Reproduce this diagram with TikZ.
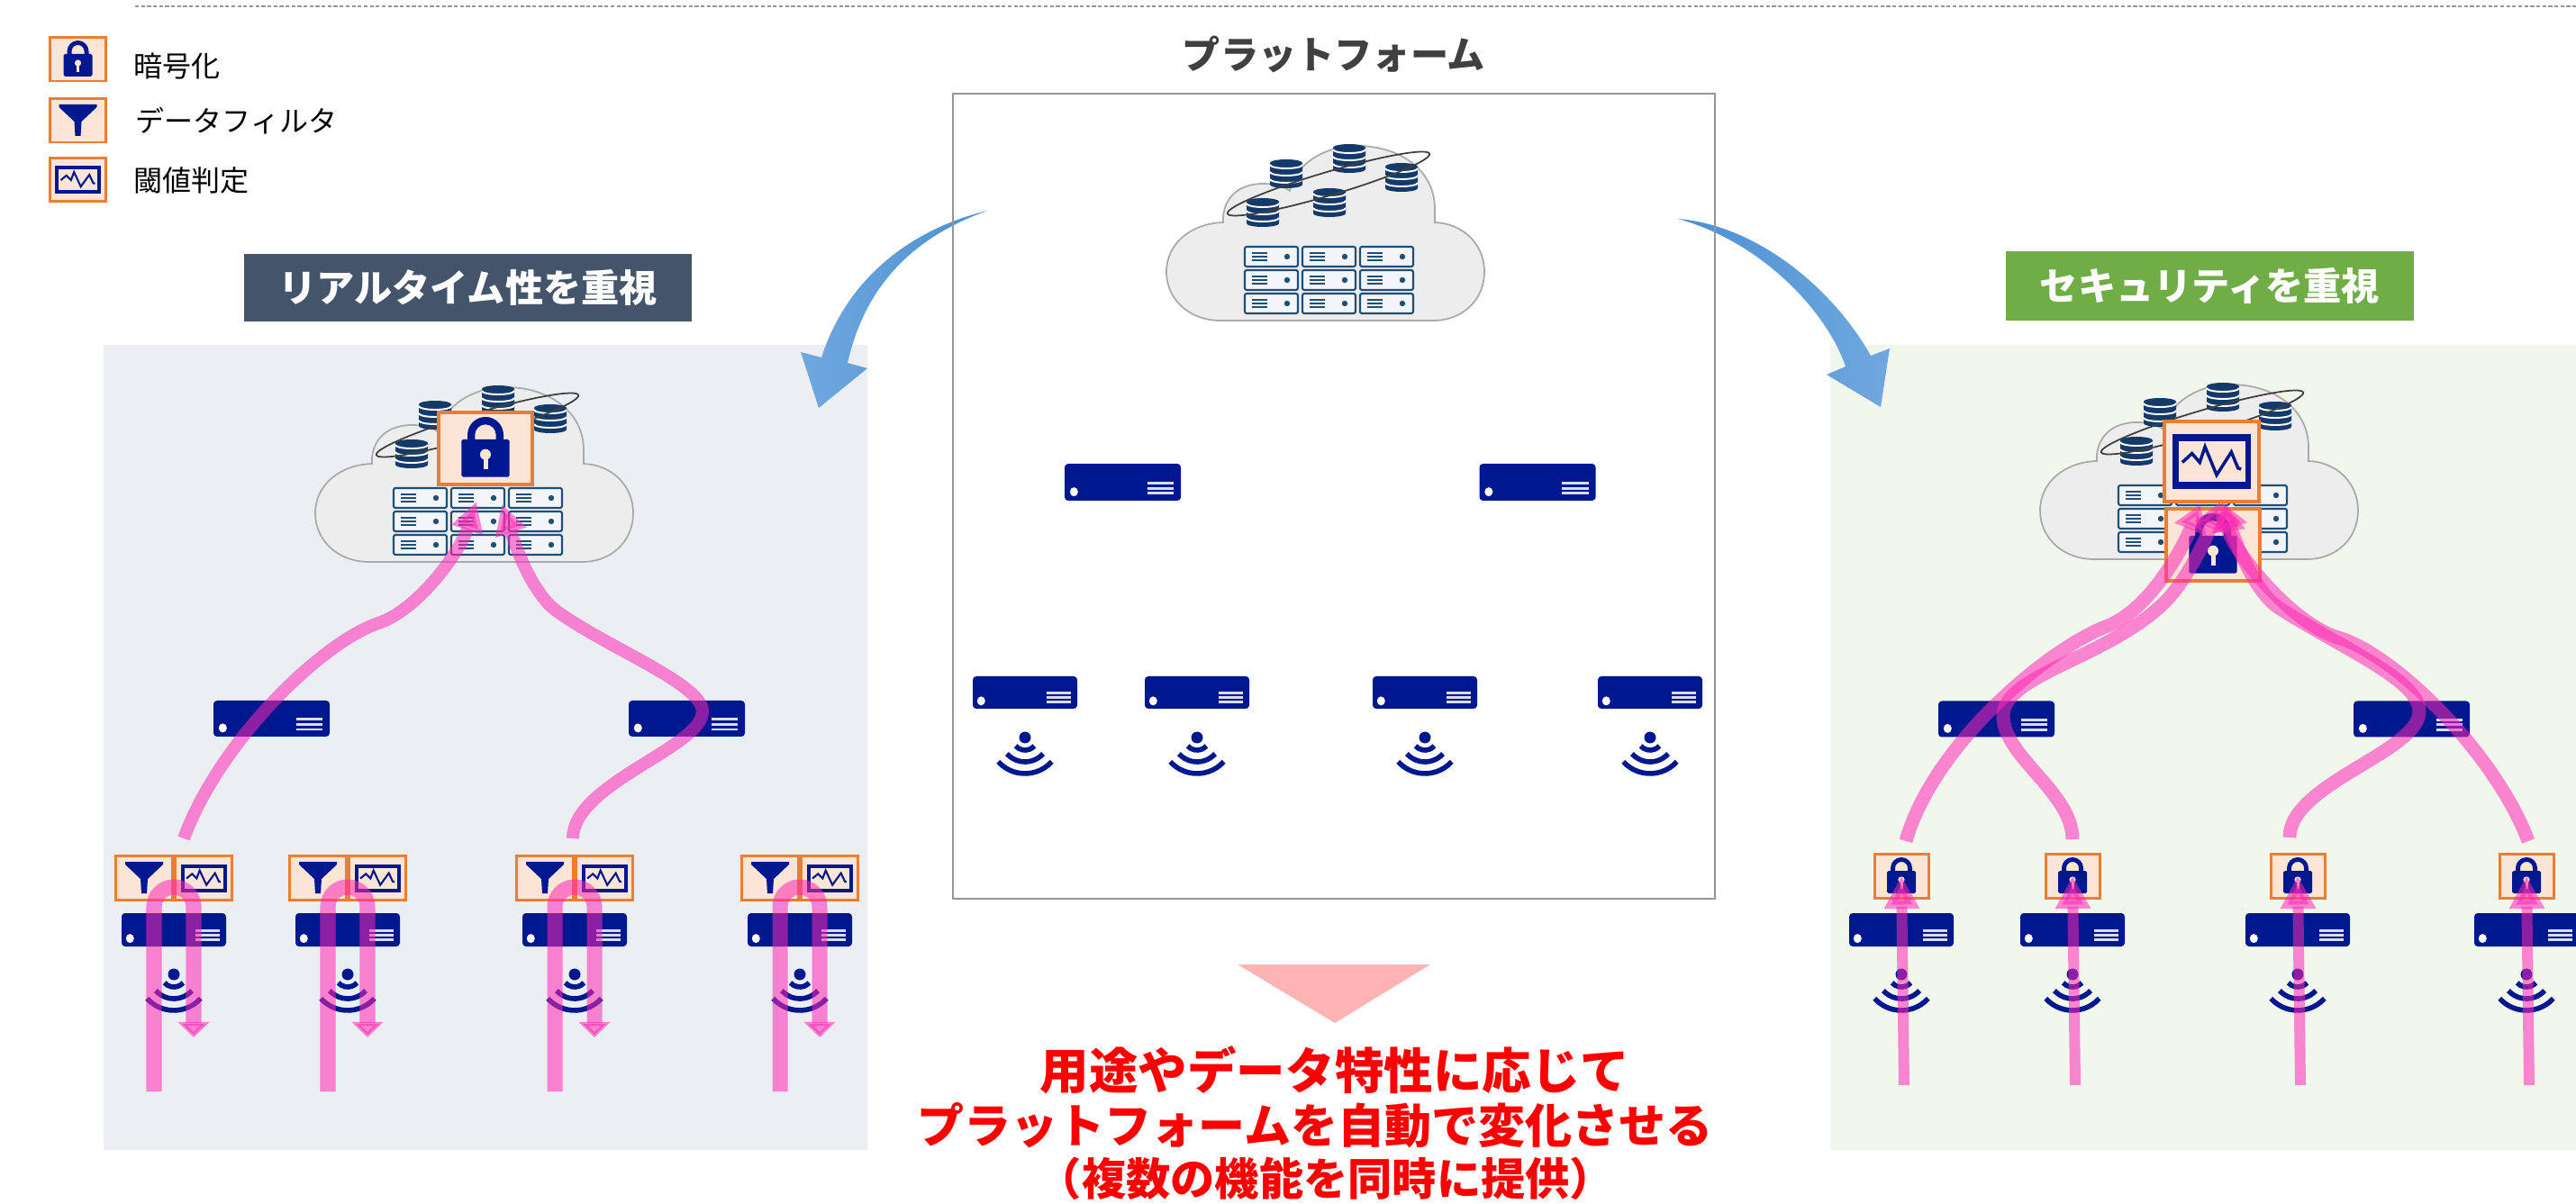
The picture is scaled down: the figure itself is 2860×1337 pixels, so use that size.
\documentclass[tikz,border=0pt]{standalone}
\usepackage{fontspec}
\newfontfamily\jp{Noto Sans CJK JP}
\usetikzlibrary{arrows.meta}

\definecolor{navy}{RGB}{0,24,143}
\definecolor{dbblue}{RGB}{20,58,105}
\definecolor{srvblue}{RGB}{31,78,121}
\definecolor{srvfill}{RGB}{243,245,248}
\definecolor{cloudfill}{RGB}{237,237,237}
\definecolor{cloudline}{RGB}{170,170,170}
\definecolor{boxorange}{RGB}{237,125,49}
\definecolor{boxpeach}{RGB}{251,229,214}
\definecolor{flowpink}{RGB}{255,40,180}
\definecolor{leftbg}{RGB}{235,239,243}
\definecolor{rightbg}{RGB}{241,247,236}
\definecolor{hdrslate}{RGB}{68,84,106}
\definecolor{hdrgreen}{RGB}{112,173,71}
\definecolor{arrowdark}{RGB}{74,144,210}
\definecolor{arrowlight}{RGB}{112,168,222}
\definecolor{downtri}{RGB}{255,180,180}
\definecolor{titlegray}{RGB}{64,64,64}
\definecolor{framegray}{RGB}{150,150,150}

% one database cylinder, top centre at (#1,#2)
\newcommand\dbat[2]{%
  \begin{scope}[shift={(#1,#2)}]
    \fill[dbblue] (-18,4) -- (-18,28) arc[start angle=180, end angle=0, x radius=18, y radius=4]
      -- (18,4) arc[start angle=0, end angle=-180, x radius=18, y radius=4] -- cycle;
    \foreach \yy in {6,14,22}
      {\draw[white, line width=0.55pt] (-18,\yy) arc[start angle=180, end angle=0, x radius=18, y radius=4];}
  \end{scope}}

% one rack unit, top-left corner at (#1,#2)
\newcommand\srvat[2]{%
  \begin{scope}[shift={(#1,#2)}]
    \draw[srvblue, fill=srvfill, line width=0.6pt, rounded corners=0.6pt] (0,0) rectangle (59,22);
    \foreach \yy in {7,11,15}
      {\draw[srvblue, line width=0.5pt] (8,\yy) -- (25,\yy);}
    \fill[srvblue] (47,11) circle[radius=3.2];
  \end{scope}}

\tikzset{
  obox/.style={draw=boxorange, fill=boxpeach, line width=0.85pt, inner sep=0pt,
    minimum width=0.62cm, minimum height=0.48cm},
  obig/.style={obox, line width=1.15pt},
  flow/.style={draw=flowpink, opacity=0.55, line cap=butt},
  hdr/.style={text=white, inner sep=0pt, font=\jp\bfseries\fontsize{12}{14}\selectfont},
  legendtext/.style={anchor=west, inner sep=0pt, font=\jp\fontsize{9.1}{11}\selectfont},
  pics/switchicon/.style 2 args={code={
    \fill[navy, rounded corners=1.1pt] ({-#1/2},{-#2/2}) rectangle ({#1/2},{#2/2});
    \fill[white] ({-0.42*#1},{0.26*#2}) ellipse[x radius=4.5, y radius=5];
    \foreach \kk in {0.02,0.16,0.30}
      {\draw[white!85!navy, line width=0.85pt] ({0.21*#1},{\kk*#2}) -- ({0.44*#1},{\kk*#2});}
  }},
  pics/wifiicon/.style={code={
    \fill[navy] (0,0) circle[radius=6.5];
    \foreach \rr in {14,27,40}
      {\draw[navy, line width=1.6pt] (42:\rr) arc[start angle=42, end angle=138, radius=\rr];}
  }},
  pics/lockicon/.style={code={
    \fill[navy, rounded corners=0.5pt] (-16,-6) rectangle (16,19);
    \fill[navy] (-12,-5) -- (-12,-9) arc[start angle=180, end angle=360, radius=12]
      -- (12,-5) -- (7,-5) -- (7,-9) arc[start angle=360, end angle=180, radius=7] -- (-7,-5) -- cycle;
    \fill[boxpeach] (0,4) circle[radius=3.6];
    \fill[boxpeach] (-1.5,4) rectangle (1.5,14);
  }},
  pics/funnelicon/.style={code={
    \fill[navy] (-21,-18) -- (21,-18) -- (21,-15) -- (4,1) -- (3,17) -- (-3,17) -- (-4,1) -- (-21,-15) -- cycle;
  }},
  pics/monitoricon/.style={code={
    \fill[navy] (-25.5,-15.5) rectangle (25.5,15.5);
    \fill[boxpeach] (-21.5,-11.5) rectangle (21.5,11.5);
    \draw[navy, line width=#1] (-19,0.5) -- (-12.7,-4.6) -- (-7.7,0.5) -- (-4.3,-8.4)
      -- (3.2,7.7) -- (12.7,-5.4) -- (17,3.8) -- (19,4.3);
  }},
  pics/cloudstack/.style={code={
    \filldraw[fill=cloudfill, draw=cloudline, line width=0.5pt]
      (63,87) .. controls (28,88) and (0,110) .. (0,142)
      .. controls (0,172) and (25,196) .. (60,196) -- (296,196)
      .. controls (330,196) and (353,172) .. (353,142)
      .. controls (353,110) and (328,88) .. (298,87) -- (298,72)
      .. controls (298,28) and (258,2) .. (212,2)
      .. controls (172,2) and (142,25) .. (137,52)
      .. controls (122,40) and (68,36) .. (63,80) -- cycle;
    \dbat{133}{17}
    \dbat{203}{0}
    \dbat{261}{21}
    \dbat{107}{60}
    \dbat{181}{49}
    \draw[black!75, line width=0.5pt, rotate around={16.5:(180,44)}]
      (180,44) ellipse[x radius=117, y radius=13];
    \foreach \ii in {0,1,2}
      {\foreach \jj in {0,1,2}
        {\srvat{87+64*\ii}{114+26*\jj}}}
  }},
}

\begin{document}
\begin{tikzpicture}[x=0.01cm, y=-0.01cm]
\useasboundingbox (0,0) rectangle (2860,1337);
\clip (0,0) rectangle (2860,1337);

% dashed rule along the top
\draw[framegray, line width=0.5pt, dash pattern=on 1.2pt off 0.7pt] (150,7) -- (2860,7);

% panel backgrounds
\fill[leftbg] (115,383) rectangle (963,1277);
\fill[rightbg] (2032,383) rectangle (2860,1277);

% curved transition arrows
\shade[left color=arrowlight, right color=arrowdark]
  (1096,234) .. controls (1010,255) and (940,310) .. (912,397) -- (889,391) -- (909,453)
  -- (963,409) -- (941,403) .. controls (960,320) and (1010,265) .. (1096,234) -- cycle;
\shade[left color=arrowdark, right color=arrowlight]
  (1863,243) .. controls (1950,250) and (2035,320) .. (2077,395) -- (2098,387) -- (2088,452)
  -- (2028,416) -- (2049,407) .. controls (2030,350) and (1960,270) .. (1863,243) -- cycle;

% platform frame and titles
\node[draw=framegray, line width=0.6pt, minimum width=8.46cm, minimum height=8.94cm, inner sep=0pt] (frame) at (1481,551) {};
\node[text=titlegray, inner sep=0pt, font=\jp\bfseries\fontsize{12}{14}\selectfont] (ptitle) at (1481,60) {プラットフォーム};
\node[hdr, fill=hdrslate, minimum width=4.97cm, minimum height=0.75cm] (hdrL) at (519.5,319.5) {リアルタイム性を重視};
\node[hdr, fill=hdrgreen, minimum width=4.53cm, minimum height=0.77cm] (hdrR) at (2453.5,317.5) {セキュリティを重視};

% clouds
\pic at (1295,160) {cloudstack};
\pic at (350,428) {cloudstack};
\pic at (2265,425) {cloudstack};

% function boxes on the clouds
\node[obig, minimum width=1.04cm, minimum height=0.80cm] (lCloudLock) at (539,498) {};
\pic[scale=1.667] at (lCloudLock) {lockicon};
\node[obig, minimum width=1.05cm, minimum height=0.89cm] (rCloudMon) at (2455.5,512.5) {};
\pic[xscale=1.72, yscale=1.95] at (rCloudMon) {monitoricon=1.0pt};
\node[obig, minimum width=1.04cm, minimum height=0.80cm] (rCloudLock) at (2457,605) {};
\pic[scale=1.667] at (rCloudLock) {lockicon};

% platform: relays and sensors
\pic at (1246.5,535.5) {switchicon={129}{41}};
\pic at (1707,535.5) {switchicon={129}{41}};
\foreach \cx in {1138,1329,1582,1832} {
  \pic at (\cx,769) {switchicon={116}{36}};
  \pic at (\cx,819) {wifiicon};
}

% real-time side
\pic at (301.5,798) {switchicon={129}{40}};
\pic at (762.5,798) {switchicon={129}{40}};
\foreach \cx/\n in {193/1,386/2,638/3,888/4} {
  \node[obox] (lFil\n) at (\cx-33,975) {};
  \pic at (lFil\n) {funnelicon};
  \node[obox] (lMon\n) at (\cx+33,975) {};
  \pic at (lMon\n) {monitoricon=0.6pt};
  \pic at (\cx,1032.5) {switchicon={116}{37}};
  \pic at (\cx,1082) {wifiicon};
}

% security side
\pic at (2216.5,798.5) {switchicon={129}{40}};
\pic at (2677.5,798.5) {switchicon={129}{40}};
\foreach \cx/\n in {2111/1,2301/2,2551/3,2805/4} {
  \node[obox, minimum width=0.60cm] (rLk\n) at (\cx,973) {};
  \pic at (rLk\n) {lockicon};
  \pic at (\cx,1032.5) {switchicon={116}{37}};
  \pic at (\cx,1082) {wifiicon};
}

% data flows, real-time side
\coordinate (lStartA) at (204,931);
\coordinate (lEndA) at (529,557);
\coordinate (lStartB) at (636,931);
\coordinate (lEndB) at (557,560);
\draw[flow, line width=0.14cm, -{Triangle[length=3.3mm, width=3.4mm]}]
  (lStartA) .. controls (245,820) and (360,712) .. (420,692) .. controls (465,677) and (511,612) .. (lEndA);
\draw[flow, line width=0.14cm, -{Triangle[length=3.3mm, width=3.4mm]}]
  (lStartB) .. controls (636,870) and (780,830) .. (780,790) .. controls (780,760) and (678,721) .. (620,680)
  .. controls (591,660) and (573,608) .. (lEndB);
\foreach \cx/\n in {193/1,386/2,638/3,888/4} {
  \coordinate (lLoop\n) at (\cx-22,1212);
  \draw[flow, line width=0.17cm, -{Triangle[length=1.7mm, width=3.4mm]}]
    (lLoop\n) -- ++(0,-205) arc[start angle=180, end angle=360, radius=22] -- ++(0,145);
}

% data flows, security side
\coordinate (rStart1) at (2116,934);
\coordinate (rStart2) at (2301,932);
\coordinate (rStart3) at (2542,930);
\coordinate (rStart4) at (2807,934);
\coordinate (rEndL) at (2443,560);
\coordinate (rEndM) at (2465,558);
\coordinate (rEndN) at (2467,558);
\coordinate (rEndR) at (2470,560);
\draw[flow, line width=0.15cm, -{Triangle[length=3.0mm, width=3.6mm]}]
  (rStart1) .. controls (2145,830) and (2270,722) .. (2340,695) .. controls (2388,676) and (2424,607) .. (rEndL);
\draw[flow, line width=0.15cm, -{Triangle[length=3.0mm, width=3.6mm]}]
  (rStart2) .. controls (2301,880) and (2224,840) .. (2224,795) .. controls (2224,750) and (2335,732) .. (2400,672)
  .. controls (2426,648) and (2448,601) .. (rEndM);
\draw[flow, line width=0.15cm, -{Triangle[length=3.0mm, width=3.6mm]}]
  (rStart3) .. controls (2542,870) and (2686,835) .. (2686,790) .. controls (2686,755) and (2600,720) .. (2530,675)
  .. controls (2503,657) and (2482,602) .. (rEndN);
\draw[flow, line width=0.15cm, -{Triangle[length=3.0mm, width=3.6mm]}]
  (rStart4) .. controls (2771,838) and (2660,727) .. (2596,708) .. controls (2540,691) and (2476,605) .. (rEndR);
\foreach \cx/\n in {2111/1,2301/2,2551/3,2805/4} {
  \coordinate (rIn\n) at (\cx+3,1205);
  \draw[flow, line width=0.12cm, -{Triangle[length=3.6mm, width=3.7mm]}] (rIn\n) -- (rLk\n.center);
}

% legend
\node[obox, minimum width=0.61cm] (lgLock) at (86.5,66) {};
\pic at (lgLock) {lockicon};
\node[legendtext] (lgLockT) at (148,73) {暗号化};
\node[obox, minimum width=0.61cm] (lgFilter) at (86.5,134) {};
\pic at (lgFilter) {funnelicon};
\node[legendtext] (lgFilterT) at (150,134) {データフィルタ};
\node[obox, minimum width=0.61cm, minimum height=0.47cm] (lgMon) at (86.5,199.5) {};
\pic at (lgMon) {monitoricon=0.6pt};
\node[legendtext] (lgMonT) at (148,200) {閾値判定};

% conclusion
\fill[downtri] (1374,1071) -- (1588,1071) -- (1482,1136) -- cycle;
\node[text=red, inner sep=0pt, font=\jp\bfseries\fontsize{15.5}{18}\selectfont] (msg1) at (1482,1188) {用途やデータ特性に応じて};
\node[text=red, inner sep=0pt, font=\jp\bfseries\fontsize{14.8}{18}\selectfont] (msg2) at (1460,1250) {プラットフォームを自動で変化させる};
\node[text=red, inner sep=0pt, font=\jp\bfseries\fontsize{14}{17}\selectfont] (msg3) at (1472,1309) {（複数の機能を同時に提供）};
\end{tikzpicture}
\end{document}
